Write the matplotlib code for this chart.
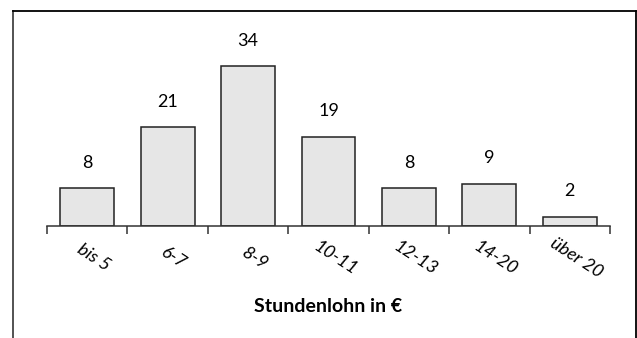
import matplotlib.pyplot as plt
from matplotlib.lines import Line2D

kategorien = ["bis 5", "6-7", "8-9", "10-11", "12-13", "14-20", "über 20"]
anzahl = [8, 21, 34, 19, 8, 9, 2]

plt.rcParams['font.family'] = ['Lato', 'DejaVu Sans']

W, H = 637, 338
fig = plt.figure(figsize=(W / 100, H / 100), dpi=100)

# Rahmen (unten offen)
x0, x1, y0 = 12.7 / W, 635.5 / W, 1 - 11 / H
fig.add_artist(Line2D([x0, x0], [0, y0], color='#444444', lw=1.3))
fig.add_artist(Line2D([x0, x1], [y0, y0], color='black', lw=1.3))
fig.add_artist(Line2D([x1, x1], [y0, 0], color='black', lw=1.3))

ax = fig.add_axes([47 / W, 1 - 226 / H, 563 / W, 188 / H])
x = range(len(kategorien))
ax.bar(x, anzahl, width=0.67, color='#e6e6e6', edgecolor='#222222', linewidth=1.1)
ax.set_xlim(-0.5, len(kategorien) - 0.5)
ax.set_ylim(0, 40)

for i, v in enumerate(anzahl):
    ax.annotate(str(v), (i, v), xytext=(0, 18.5), textcoords='offset points',
                ha='center', va='center', fontsize=13)

for s in ['top', 'right', 'left']:
    ax.spines[s].set_visible(False)
ax.spines['bottom'].set_color('#333333')
ax.spines['bottom'].set_linewidth(1.1)
ax.set_yticks([])
ax.set_xticks([i - 0.5 for i in range(len(kategorien) + 1)])
ax.set_xticklabels([])
ax.tick_params(axis='x', length=6, width=1.1, color='#333333', direction='out')

for i, k in enumerate(kategorien):
    ax.annotate(k, (i, 0), xytext=(4.5, -23), textcoords='offset points',
                ha='center', va='center', rotation=-33, rotation_mode='anchor',
                fontsize=13, style='italic')

fig.text(328 / W, 1 - 307 / H, "Stundenlohn in €", ha='center', va='center',
         fontsize=14, fontweight='bold')

fig.savefig('out.png', dpi=100)
